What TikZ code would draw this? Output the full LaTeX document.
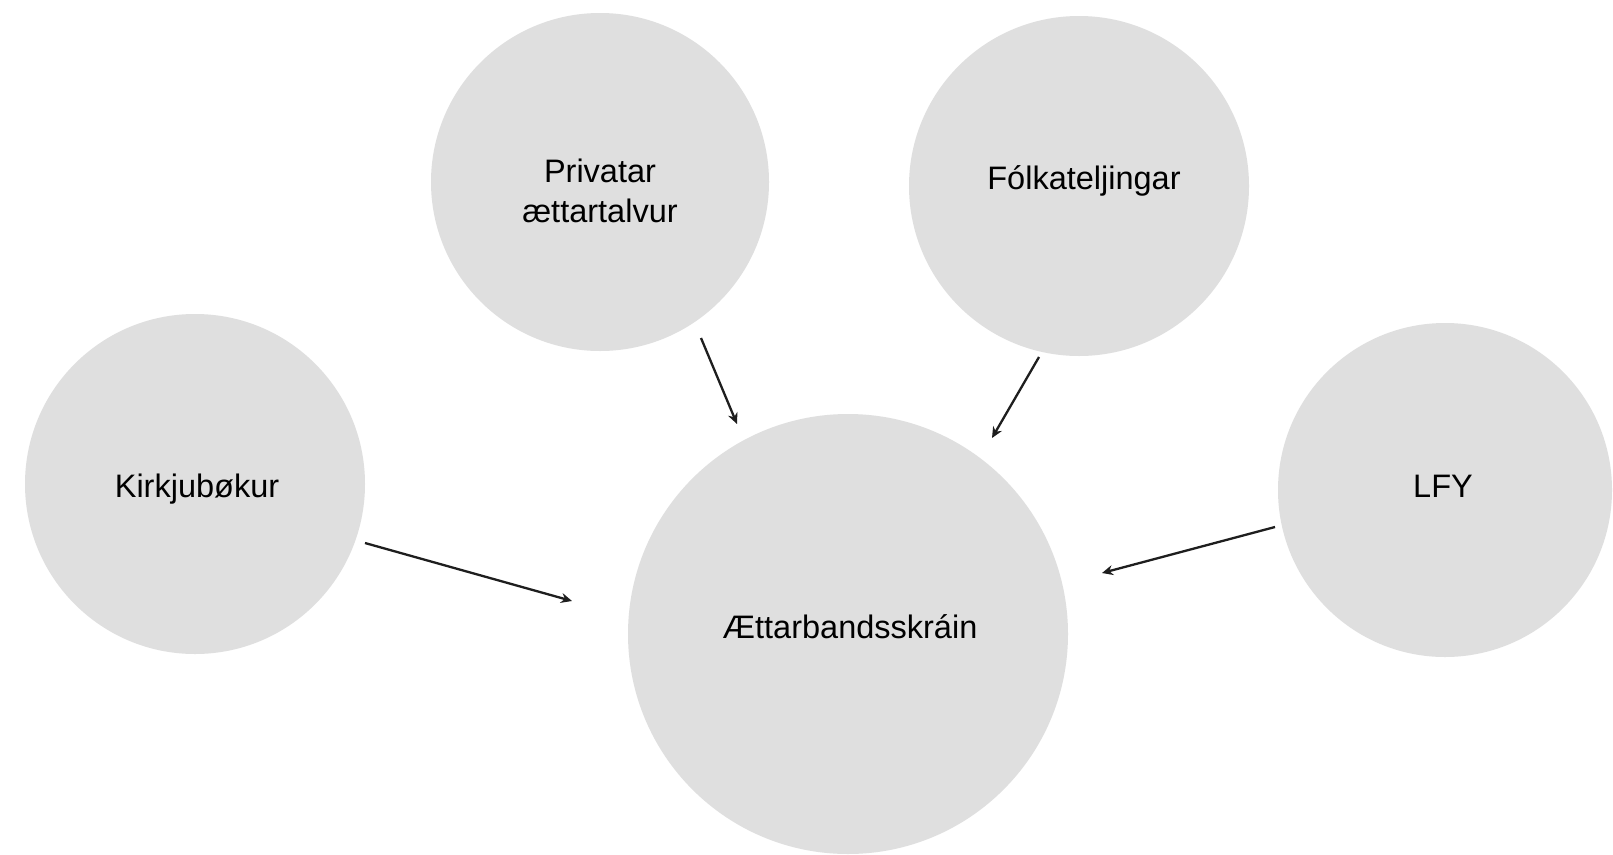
\documentclass[tikz,border=0pt]{standalone}
\usepackage{fontspec}
\setmainfont{Liberation Sans}
\usetikzlibrary{arrows.meta}
\definecolor{bubble}{HTML}{DFDFDF}
\definecolor{arrowc}{HTML}{1E1E1E}
\tikzset{
  bubble/.style={circle, fill=bubble, draw=none, inner sep=0pt},
  lbl/.style={font=\fontsize{32.5}{40}\selectfont, align=center, text=black, inner sep=0pt},
  feed/.style={draw=arrowc, line width=2.3pt, -{Stealth[length=11pt,width=10pt]}}
}
\begin{document}
\begin{tikzpicture}[x=1pt,y=-1pt]
\useasboundingbox[fill=white] (0,0) rectangle (1613,854);
\node[bubble, minimum size=338pt] (priv) at (600,182) {};
\node[bubble, minimum size=340pt] (folk) at (1079,186) {};
\node[bubble, minimum size=340pt] (kirk) at (195,484) {};
\node[bubble, minimum size=334pt] (lfy) at (1445,490) {};
\node[bubble, minimum size=440pt] (aett) at (848,634) {};
\node[lbl] (privt) at (600,191) {Privatar\\ættartalvur};
\node[lbl] (folkt) at (1084,181) {Fólkateljingar};
\node[lbl] (kirkt) at (197,489) {Kirkjubøkur};
\node[lbl] (lfyt) at (1443,486) {LFY};
\node[lbl] (aettt) at (850,627) {Ættarbandsskráin};
\coordinate (a1s) at (701,338); \coordinate (a1e) at (737,424);
\coordinate (a2s) at (1039,357); \coordinate (a2e) at (992,438);
\coordinate (a3s) at (365,543); \coordinate (a3e) at (572,601);
\coordinate (a4s) at (1275,527); \coordinate (a4e) at (1102,573);
\draw[feed] (a1s) -- (a1e);
\draw[feed] (a2s) -- (a2e);
\draw[feed] (a3s) -- (a3e);
\draw[feed] (a4s) -- (a4e);
\end{tikzpicture}
\end{document}
